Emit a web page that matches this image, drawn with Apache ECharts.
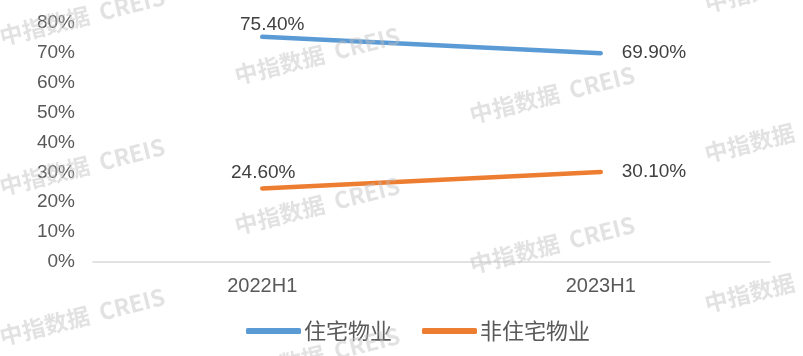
<!DOCTYPE html>
<html><head><meta charset="utf-8">
<script src="https://cdn.jsdelivr.net/npm/echarts@6/dist/echarts.min.js"></script>
<style>html,body{margin:0;padding:0;background:#fff}#c{width:803px;height:356px}</style>
</head><body><div id="c"></div>
<script>
const categories = ['2022H1', '2023H1'];
const residential = [75.4, 69.9];
const nonResidential = [24.6, 30.1];
const seriesNames = ['住宅物业', '非住宅物业'];
const yTicks = [0, 10, 20, 30, 40, 50, 60, 70, 80];
const watermarkText = '中指数据  CREIS';

const chart = echarts.init(document.getElementById('c'), null, {renderer: 'canvas'});
const font = '"Liberation Sans", Arial, sans-serif';

// watermark tiling
const marks = [];
for (let c = 0; c < 4; c++) {
  for (let r = -1; r < 3; r++) {
    marks.push({
      type: 'text', z: 100, silent: true,
      x: 0 + 235 * c, y: 37 + 39 * c + 150 * r,
      rotation: 14 * Math.PI / 180,
      style: {text: watermarkText, fill: 'rgba(190,190,190,0.45)', font: 'bold 23px "Noto Sans CJK SC", sans-serif', textVerticalAlign: 'middle', textAlign: 'left'}
    });
  }
}

function labelFor(pos) {
  return {show: true, position: pos, formatter: p => p.value.toFixed(2) + '%', color: '#404040', fontSize: 19, fontFamily: font};
}

chart.setOption({
  animation: false,
  grid: {left: 93, right: 33, top: 23, bottom: 94, containLabel: false},
  legend: {
    bottom: 9, left: 241, itemWidth: 55, itemHeight: 6, itemGap: 30, icon: 'roundRect',
    textStyle: {fontSize: 22, color: '#595959', fontFamily: '"Noto Sans CJK SC", sans-serif', padding: [0, 0, 0, -2]},
    data: seriesNames
  },
  xAxis: {
    type: 'category', data: categories, boundaryGap: true,
    axisLine: {lineStyle: {color: '#d9d9d9', width: 1.5}},
    axisTick: {show: false},
    axisLabel: {color: '#595959', fontSize: 20, fontFamily: font, margin: 14}
  },
  yAxis: {
    type: 'value', min: yTicks[0], max: yTicks[yTicks.length - 1], interval: 10,
    axisLine: {show: false}, axisTick: {show: false}, splitLine: {show: false},
    axisLabel: {color: '#595959', fontSize: 19, fontFamily: font, margin: 18, formatter: v => v + '%'}
  },
  series: [
    {
      name: seriesNames[0], type: 'line',
      data: residential.map((v, i) => ({value: v, label: i === 0 ? Object.assign(labelFor('top'), {offset: [10, 3]}) : Object.assign(labelFor('right'), {distance: 21})})),
      showSymbol: true, symbol: 'circle', symbolSize: 0.1, itemStyle: {color: '#5b9bd5'},
      lineStyle: {width: 4.5, color: '#5b9bd5', cap: 'round'}
    },
    {
      name: seriesNames[1], type: 'line',
      data: nonResidential.map((v, i) => ({value: v, label: i === 0 ? Object.assign(labelFor('top'), {offset: [1, -1]}) : Object.assign(labelFor('right'), {distance: 21})})),
      showSymbol: true, symbol: 'circle', symbolSize: 0.1, itemStyle: {color: '#ed7d31'},
      lineStyle: {width: 4.5, color: '#ed7d31', cap: 'round'}
    }
  ],
  graphic: marks
});
</script></body></html>
